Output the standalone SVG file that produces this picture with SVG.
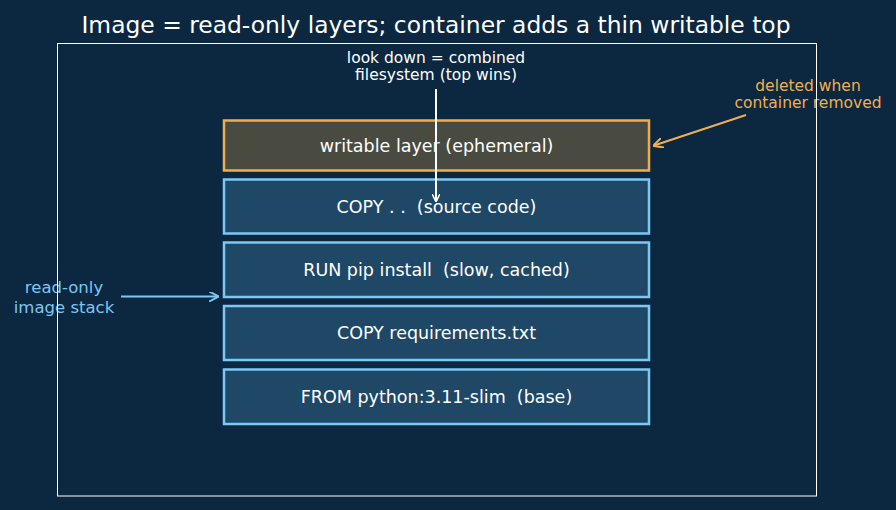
<svg xmlns="http://www.w3.org/2000/svg" width="896" height="510" viewBox="0 0 896 510">
<defs>
<style>
text{font-family:"DejaVu Sans","Noto Sans",sans-serif;text-anchor:middle;white-space:pre}
.layer rect{fill:#1f4866;stroke:#7cc8f2;stroke-width:2.5}
.layer text{fill:#ffffff;font-size:17.5px}
.wr rect{fill:#4a4b40;stroke:#f0ad4e;stroke-width:2.5}
.lbl{font-size:15.5px}
.side{font-size:16.5px}
</style>
<marker id="aw" viewBox="0 0 10 10" refX="9" refY="5" markerWidth="8" markerHeight="8" markerUnits="userSpaceOnUse" orient="auto"><path d="M0,0 L10,5 L0,10" fill="none" stroke="#ffffff" stroke-width="2"/></marker>
<marker id="ao" viewBox="0 0 10 10" refX="9" refY="5" markerWidth="10" markerHeight="10" markerUnits="userSpaceOnUse" orient="auto"><path d="M0,0 L10,5 L0,10" fill="none" stroke="#f0b050" stroke-width="2"/></marker>
<marker id="ab" viewBox="0 0 10 10" refX="9" refY="5" markerWidth="10" markerHeight="10" markerUnits="userSpaceOnUse" orient="auto"><path d="M0,0 L10,5 L0,10" fill="none" stroke="#7cc8f2" stroke-width="2"/></marker>
</defs>
<rect width="896" height="510" fill="#0c2740"/>
<text x="436" y="32.5" fill="#ffffff" style="font-size:23.4px">Image = read-only layers; container adds a thin writable top</text>
<g id="writable" class="layer wr"><rect x="224" y="120.5" width="425" height="50"/><text x="436.5" y="151.5">writable layer (ephemeral)</text></g>
<g id="copy-src" class="layer"><rect x="224" y="179.5" width="425" height="54"/><text x="436.5" y="212.5">COPY . .  (source code)</text></g>
<g id="run-pip" class="layer"><rect x="224" y="242.5" width="425" height="54.5"/><text x="436.5" y="276">RUN pip install  (slow, cached)</text></g>
<g id="copy-req" class="layer"><rect x="224" y="306" width="425" height="54"/><text x="436.5" y="339">COPY requirements.txt</text></g>
<g id="from" class="layer"><rect x="224" y="369.5" width="425" height="54.5"/><text x="436.5" y="402.5">FROM python:3.11-slim  (base)</text></g>
<g id="labels">
<text class="lbl" x="436" y="62.5" fill="#ffffff">look down = combined</text>
<text class="lbl" x="436" y="80" fill="#ffffff">filesystem (top wins)</text>
<text class="lbl" x="808" y="90.5" fill="#f0b050">deleted when</text>
<text class="lbl" x="808" y="108" fill="#f0b050">container removed</text>
<text class="side" x="64" y="292.5" fill="#7cc8f2">read-only</text>
<text class="side" x="64" y="313" fill="#7cc8f2">image stack</text>
</g>
<g id="connectors" fill="none" stroke-width="2">
<line x1="436" y1="89" x2="436" y2="201" stroke="#ffffff" marker-end="url(#aw)"/>
<line x1="746" y1="115" x2="654" y2="145.5" stroke="#f0b050" marker-end="url(#ao)"/>
<line x1="121" y1="296.5" x2="218" y2="296.5" stroke="#7cc8f2" marker-end="url(#ab)"/>
</g>
<rect x="57.5" y="43.5" width="759" height="452.5" fill="none" stroke="#ffffff" stroke-width="1"/>
</svg>
